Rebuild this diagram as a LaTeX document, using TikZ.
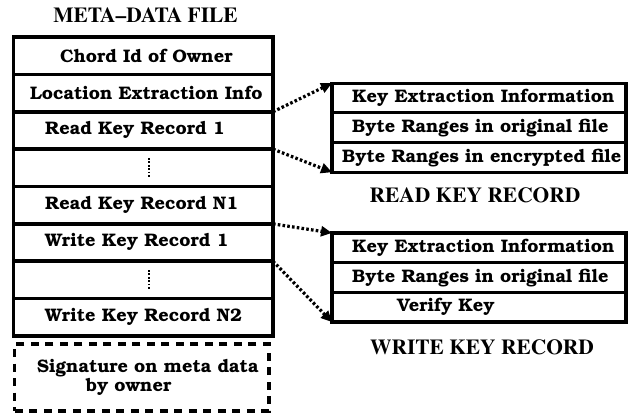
\documentclass[tikz,border=0pt]{standalone}
\usepackage[T1]{fontenc}
\usetikzlibrary{arrows.meta}
\newcommand\bkfont{\fontfamily{pbk}\fontseries{db}\fontsize{18.2}{19.5}\selectfont}
\newcommand\tmfont{\fontfamily{ptm}\fontseries{b}\fontsize{21.5}{23}\selectfont}
\begin{document}
\begin{tikzpicture}[x=1bp,y=-1bp,
  rowbox/.style={draw, line width=3.6bp, minimum width=259.5bp, minimum height=37.375bp, inner sep=0pt, outer sep=0pt},
  recbox/.style={draw, line width=3.2bp, minimum width=294bp, minimum height=29.7bp, inner sep=0pt, outer sep=0pt},
  txt/.style={font=\bkfont, inner sep=0pt, anchor=west},
  ttl/.style={font=\tmfont, inner sep=0pt},
  dotline/.style={line width=3.2bp, dash pattern=on 2.6bp off 2.2bp, -{Triangle[length=11bp,width=10bp]}},
  vdots/.style={line width=2.4bp, dash pattern=on 1.8bp off 1.6bp}
]
\useasboundingbox (0,0) rectangle (631,416);
% title
\node[ttl] (title) at (145.5,15) {META--DATA FILE};
% left rows
\node[rowbox] (r1) at (143.25,55.69) {};
\node[rowbox] (r2) at (143.25,93.06) {};
\node[rowbox] (r3) at (143.25,130.44) {};
\node[rowbox] (r4) at (143.25,167.81) {};
\node[rowbox] (r5) at (143.25,205.19) {};
\node[rowbox] (r6) at (143.25,242.56) {};
\node[rowbox] (r7) at (143.25,279.94) {};
\node[rowbox] (r8) at (143.25,317.31) {};
\node[txt] (t1) at (60,55.69) {Chord Id of Owner};
\node[txt] (t2) at (30,93.06) {Location Extraction Info};
\node[txt] (t3) at (45,130.44) {Read Key Record 1};
\node[txt] (t5) at (45,205.19) {Read Key Record N1};
\node[txt] (t6) at (45,242.56) {Write Key Record 1};
\node[txt] (t8) at (45,317.31) {Write Key Record N2};
\draw[vdots] (149,158) -- (149,177);
\draw[vdots] (149,270) -- (149,289);
% signature
\node[draw, line width=3.2bp, dash pattern=on 8bp off 6.5bp, minimum width=254bp, minimum height=67bp, inner sep=0pt] (sig) at (141.9,377.5) {};
\node[txt, align=left] (sigt) at (37,377.5) {Signature on meta data\\\hspace*{49bp}by owner};
% read key record
\node[recbox] (a1) at (479,98) {};
\node[recbox] (a2) at (479,127.7) {};
\node[recbox] (a3) at (479,157.4) {};
\node[txt] (at1) at (352,98) {Key Extraction Information};
\node[txt] (at2) at (352,127.7) {Byte Ranges in original file};
\node[txt] (at3) at (342,157.4) {Byte Ranges in encrypted file};
\node[ttl] (rtitle) at (475,195) {READ KEY RECORD};
% write key record
\node[recbox] (b1) at (479,247.8) {};
\node[recbox] (b2) at (479,277.5) {};
\node[recbox] (b3) at (479,307.2) {};
\node[txt] (bt1) at (352,247.8) {Key Extraction Information};
\node[txt] (bt2) at (352,277.5) {Byte Ranges in original file};
\node[txt] (bt3) at (397,307.2) {Verify Key};
\node[ttl] (wtitle) at (482,347) {WRITE KEY RECORD};
% connectors
\draw[dotline] (r2.south east) -- (a1.north west);
\draw[dotline] (r3.south east) -- (a3.south west);
\draw[dotline] (r5.south east) -- (b1.north west);
\draw[dotline] (r6.south east) -- (b3.south west);
\end{tikzpicture}
\end{document}
